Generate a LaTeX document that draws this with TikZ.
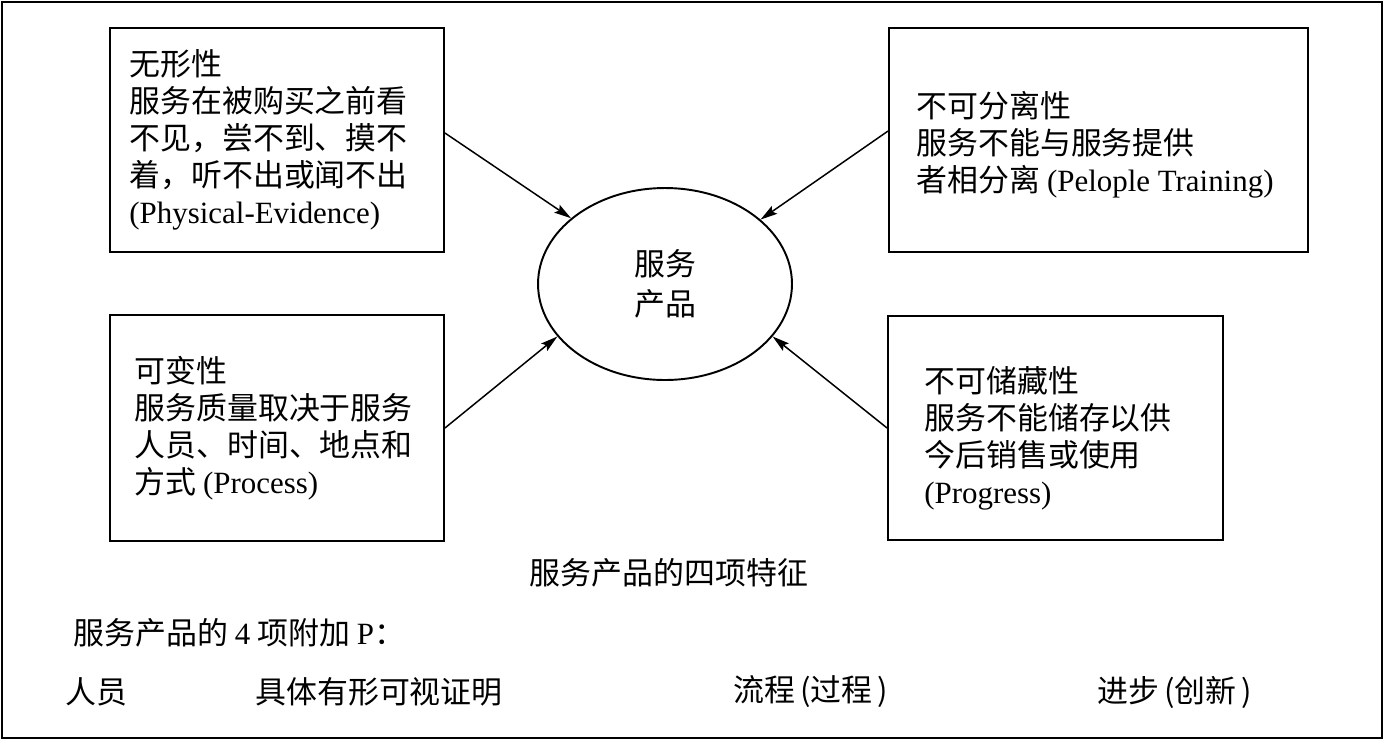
\documentclass[tikz,border=0pt]{standalone}
\usepackage{fontspec}
\setmainfont{Liberation Serif}
\newfontfamily\cjk{Noto Sans CJK SC}
\usetikzlibrary{positioning,arrows.meta,shapes.geometric}

\begin{document}
\begin{tikzpicture}[
  x=0.02cm, y=-0.02cm,
  card/.style={draw=black,line width=1.1pt,inner sep=0pt},
  cardtext/.style={inner sep=0pt,align=left,font=\cjk\fontsize{17.6}{21}\selectfont},
  lbl/.style={inner sep=0pt,font=\cjk\fontsize{17.6}{21}\selectfont},
  >={Stealth[length=0.34cm,width=0.19cm,inset=0.06cm]}
]
\useasboundingbox (0,0) rectangle (1385,741);

% Outer frame
\draw[line width=1.2pt] (2,2) rectangle (1382,738);

% Four characteristic boxes
\node[card,minimum width=6.68cm,minimum height=4.48cm] (intang) at (277,140) {};
\node[card,minimum width=8.38cm,minimum height=4.48cm] (insep)  at (1098.5,140) {};
\node[card,minimum width=6.68cm,minimum height=4.52cm] (variab) at (277,428) {};
\node[card,minimum width=6.70cm,minimum height=4.48cm] (perish) at (1055.5,428) {};

% Box texts
\node[cardtext,anchor=west,xshift=0.4cm] (intangT) at (intang.west)
  {无形性\\服务在被购买之前看\\不见，尝不到、摸不\\着，听不出或闻不出\\\textrm{(Physical-Evidence)}};
\node[cardtext,anchor=west,xshift=0.56cm,yshift=-0.1cm] (insepT) at (insep.west)
  {不可分离性\\服务不能与服务提供\\者相分离 \textrm{(Pelople Training)}};
\node[cardtext,anchor=west,xshift=0.5cm] (variabT) at (variab.west)
  {可变性\\服务质量取决于服务\\人员、时间、地点和\\方式 \textrm{(Process)}};
\node[cardtext,anchor=west,xshift=0.74cm,yshift=-0.2cm] (perishT) at (perish.west)
  {不可储藏性\\服务不能储存以供\\今后销售或使用\\\textrm{(Progress)}};

% Centre ellipse
\node[ellipse,draw,line width=1.1pt,inner sep=0pt,minimum width=5.08cm,minimum height=3.84cm,
  align=center,font=\cjk\fontsize{17.6}{22.8}\selectfont] (prod) at (665,284) {服务\\产品};

% Arrows into the ellipse
\draw[->,line width=0.85pt] ([yshift=0.14cm]intang.east) -- (prod.145);
\draw[->,line width=0.85pt] ([yshift=0.18cm]insep.west) -- (prod.34);
\draw[->,line width=0.85pt] (variab.east) -- (prod.206);
\draw[->,line width=0.85pt] (perish.west) -- (prod.334);

% Captions
\node[lbl] (title) at (669,573) {服务产品的四项特征};
\node[lbl,anchor=west] (extra) at (73,633) {服务产品的 \textrm{4} 项附加 \textrm{P}：};
\foreach \x/\txt [count=\i] in {65/人员,255/具体有形可视证明,733/流程\,(过程\,),1097/进步\,(创新\,)}{
  \node[lbl,anchor=west] (P\i) at (\x,692) {\txt};
}
\end{tikzpicture}
\end{document}
